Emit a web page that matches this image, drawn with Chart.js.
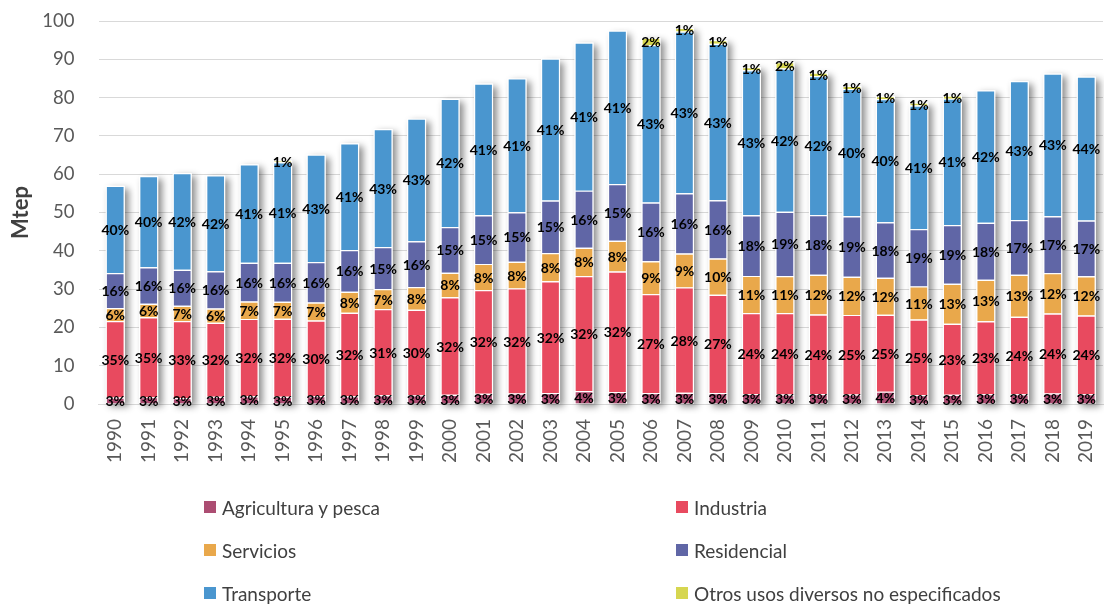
<!DOCTYPE html>
<html>
<head>
<meta charset="utf-8">
<script src="https://cdn.jsdelivr.net/npm/chart.js@4.4.1/dist/chart.umd.min.js"></script>
<style>
    body { margin: 0; background: #fff; }
    #wrap { position: relative; width: 1104px; height: 608px; }
    #legend { font-family: Lato, sans-serif; font-size: 19px; color: #404040; }
    .item { position: absolute; display: flex; align-items: center; height: 24px; white-space: nowrap; }
    .box { width: 12px; height: 12px; margin-right: 6px; }
</style>
</head>
<body>
<div id="wrap">
    <canvas id="chart" width="1104" height="608"></canvas>
    <div id="legend"></div>
</div>
<script>
// Consumo de energía final por sector (Mtep)
const years = ["1990", "1991", "1992", "1993", "1994", "1995", "1996", "1997", "1998", "1999",
    "2000", "2001", "2002", "2003", "2004", "2005", "2006", "2007", "2008", "2009",
    "2010", "2011", "2012", "2013", "2014", "2015", "2016", "2017", "2018", "2019"];

const agricultura = [1.71, 1.79, 1.57, 1.91, 2.00, 1.91, 2.08, 2.04, 2.30, 2.24,
    2.39, 2.68, 2.72, 2.89, 3.40, 3.12, 2.87, 2.95, 2.85, 2.64,
    2.50, 2.60, 2.49, 3.22, 2.36, 2.42, 2.62, 2.53, 2.76, 2.57];
const industria = [19.95, 20.83, 20.08, 19.28, 20.22, 20.35, 19.73, 21.79, 22.47, 22.35,
    25.50, 27.04, 27.46, 29.13, 30.02, 31.49, 25.81, 27.50, 25.65, 21.12,
    21.25, 20.76, 20.78, 20.10, 19.68, 18.52, 19.00, 20.23, 20.88, 20.52];
const servicios = [3.42, 3.57, 3.98, 3.76, 4.51, 4.45, 4.69, 5.45, 5.24, 5.96,
    6.38, 6.86, 6.97, 7.40, 7.36, 8.00, 8.60, 8.84, 9.50, 9.68,
    9.64, 10.38, 9.97, 9.65, 8.66, 10.47, 10.81, 10.96, 10.53, 10.26];
const residencial = [9.12, 9.52, 9.41, 9.73, 10.14, 10.18, 10.55, 10.90, 10.99, 11.92,
    11.96, 12.72, 12.92, 13.71, 14.92, 14.82, 15.30, 15.71, 15.20, 15.84,
    16.79, 15.57, 15.79, 14.47, 14.95, 15.30, 14.91, 14.33, 14.84, 14.54];
const transporte = [22.80, 23.80, 25.27, 25.01, 25.73, 26.20, 28.06, 27.92, 30.80, 32.04,
    33.47, 34.40, 34.94, 37.07, 38.70, 40.07, 41.11, 42.23, 40.85, 37.84,
    37.42, 36.33, 33.24, 32.16, 32.27, 33.01, 34.56, 36.25, 37.28, 37.62];
const otros = [0, 0, 0, 0, 0, 0.51, 0, 0, 0, 0,
    0, 0, 0, 0, 0, 0, 1.91, 0.98, 0.95, 0.88,
    1.70, 0.87, 0.83, 0.80, 0.79, 0.81, 0, 0, 0, 0];

const yTicks = [0, 10, 20, 30, 40, 50, 60, 70, 80, 90, 100];

const series = [
    { label: "Agricultura y pesca", data: agricultura, color: "#AC4D72" },
    { label: "Industria", data: industria, color: "#E84A5F" },
    { label: "Servicios", data: servicios, color: "#E9A84B" },
    { label: "Residencial", data: residencial, color: "#6066A6" },
    { label: "Transporte", data: transporte, color: "#4A96CF" },
    { label: "Otros usos diversos no especificados", data: otros, color: "#D6D650" },
];

// sombra detrás de cada columna (como en Excel)
const shadowPlugin = {
    id: "shadow",
    beforeDatasetsDraw(chart) {
        const ctx = chart.ctx;
        const first = chart.getDatasetMeta(0);
        ctx.save();
        ctx.shadowColor = "rgba(0,0,0,0.45)";
        ctx.shadowBlur = 7;
        ctx.shadowOffsetX = 4;
        ctx.shadowOffsetY = 3;
        ctx.fillStyle = "#fff";
        first.data.forEach((bar, i) => {
            let top = bar.y;
            chart.data.datasets.forEach((ds, d) => {
                const el = chart.getDatasetMeta(d).data[i];
                if (ds.data[i] > 0) top = Math.min(top, el.y);
            });
            ctx.fillRect(bar.x - bar.width / 2, top, bar.width, bar.base - top);
        });
        ctx.restore();
    }
};

// etiquetas de porcentaje dentro de cada segmento
const percentPlugin = {
    id: "percent",
    afterDatasetsDraw(chart) {
        const ctx = chart.ctx;
        const ds = chart.data.datasets;
        ctx.save();
        ctx.font = "bold 14px Lato";
        ctx.fillStyle = "#000";
        ctx.textAlign = "center";
        ctx.textBaseline = "middle";
        ds.forEach((set, d) => {
            chart.getDatasetMeta(d).data.forEach((el, i) => {
                const v = set.data[i];
                if (!v) return;
                const total = ds.reduce((s, x) => s + x.data[i], 0);
                const pct = Math.round(v / total * 100);
                ctx.fillText(pct + "%", el.x, (el.y + el.base) / 2 + 1);
            });
        });
        ctx.restore();
    }
};

const ctx = document.getElementById("chart").getContext("2d");
const chart = new Chart(ctx, {
    type: "bar",
    data: {
        labels: years,
        datasets: series.map(s => ({
            label: s.label,
            data: s.data,
            backgroundColor: s.color,
            borderColor: "#fff",
            borderWidth: 1.2,
            barPercentage: 0.57,
            categoryPercentage: 1,
        })),
    },
    options: {
        responsive: false,
        animation: false,
        devicePixelRatio: 1,
        layout: { padding: { top: 21, right: 1, bottom: 134, left: 0 } },
        plugins: {
            legend: { display: false },
            tooltip: { enabled: false },
        },
        scales: {
            x: {
                stacked: true,
                grid: { display: false, drawTicks: false },
                border: { display: true, color: "#D9D9D9" },
                ticks: {
                    minRotation: 90,
                    maxRotation: 90,
                    padding: 15,
                    color: "#595959",
                    font: { family: "Lato", size: 19 },
                },
                afterFit: scale => {
                    scale.height = 70;
                    scale.paddingLeft = 0;
                    scale.paddingRight = 0;
                },
            },
            y: {
                stacked: true,
                min: 0,
                max: 100,
                afterBuildTicks: scale => { scale.ticks = yTicks.map(v => ({ value: v })); },
                grid: { color: "#D9D9D9", drawTicks: false },
                border: { display: false },
                ticks: {
                    padding: 24,
                    color: "#595959",
                    font: { family: "Lato", size: 18.5 },
                },
                title: {
                    display: true,
                    text: "Mtep",
                    color: "#404040",
                    font: { family: "Lato", size: 22, weight: "bold" },
                    padding: { top: 8, bottom: 0 },
                },
                afterFit: scale => {
                    scale.width = 98.5;
                    scale.paddingTop = 0;
                    scale.paddingBottom = 0;
                },
            },
        },
    },
    plugins: [shadowPlugin, percentPlugin],
});

// leyenda en dos columnas
const legend = document.getElementById("legend");
const colX = [204, 676];
const rowY = [495, 538, 581];
chart.data.datasets.forEach((ds, i) => {
    const item = document.createElement("div");
    item.className = "item";
    item.style.left = colX[i % 2] + "px";
    item.style.top = rowY[Math.floor(i / 2)] + "px";
    item.innerHTML = `<span class="box" style="background:${ds.backgroundColor}"></span><span>${ds.label}</span>`;
    legend.appendChild(item);
});
</script>
</body>
</html>
